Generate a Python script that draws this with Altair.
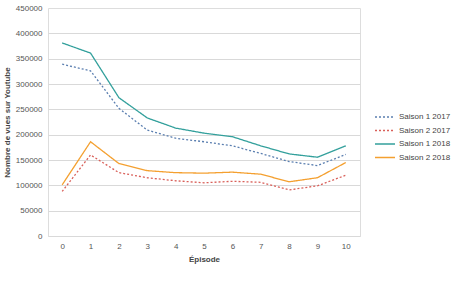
import altair as alt
import pandas as pd

episodes = list(range(11))
series_names = ["Saison 1 2017", "Saison 2 2017", "Saison 1 2018", "Saison 2 2018"]
s1_2017 = [339000, 326000, 252000, 209000, 193000, 186000, 178000, 163000, 147000, 139000, 161000]
s2_2017 = [88000, 160000, 125000, 115000, 109000, 105000, 108000, 106000, 91000, 99000, 120000]
s1_2018 = [381000, 361000, 273000, 233000, 213000, 203000, 196000, 178000, 162000, 155500, 178000]
s2_2018 = [101000, 186000, 143000, 129000, 125000, 124000, 126000, 122000, 107000, 115000, 145000]
colors = ["#5b7fb0", "#d9605a", "#33a09c", "#f4a030"]
dashes = [[2, 2], [2, 2], [1, 0], [1, 0]]
widths = [1.3, 1.3, 2.0, 2.0]

rows = []
for name, vals in zip(series_names, [s1_2017, s2_2017, s1_2018, s2_2018]):
    for e, v in zip(episodes, vals):
        rows.append({"Épisode": e, "Vues": v, "Série": name})
df = pd.DataFrame(rows)

font = "Liberation Sans"

chart = alt.Chart(df).mark_line().encode(
    x=alt.X("Épisode:Q", scale=alt.Scale(domain=[-0.5, 10.5], nice=False),
            axis=alt.Axis(values=episodes, title="Épisode", grid=False, ticks=False,
                          domain=False, labelFontSize=8, labelColor="#555555",
                          labelPadding=6, titleFontSize=8, titleColor="#444444",
                          titlePadding=5, labelFont=font, titleFont=font)),
    y=alt.Y("Vues:Q", scale=alt.Scale(domain=[0, 450000], nice=False),
            axis=alt.Axis(values=list(range(0, 450001, 50000)), title="Nombre de vues sur Youtube",
                          ticks=False, domain=False, labelFontSize=8, labelColor="#555555",
                          labelPadding=6, titleFontSize=8, titleColor="#444444",
                          titlePadding=4, labelFont=font, titleFont=font, format="d",
                          gridColor="#d9d9d9",
                          gridOpacity={"condition": {"test": "datum.value >= 450000", "value": 0}, "value": 1})),
    color=alt.Color("Série:N", scale=alt.Scale(domain=series_names, range=colors),
                    legend=alt.Legend(title=None, orient="none", legendX=331, legendY=103,
                                      symbolType="M-2,0H2", symbolSize=100, symbolStrokeWidth=1.8,
                                      labelFontSize=8, labelColor="#444444", labelFont=font,
                                      labelOffset=8, rowPadding=3.5)),
    strokeDash=alt.StrokeDash("Série:N", scale=alt.Scale(domain=series_names, range=dashes), legend=None),
    strokeWidth=alt.StrokeWidth("Série:N", scale=alt.Scale(domain=series_names, range=widths), legend=None),
).properties(
    width=312, height=228,
    autosize=alt.AutoSizeParams(type="none"),
    padding={"left": 48, "top": 8, "right": 98, "bottom": 47},
).configure_view(stroke=None).configure(background="white")

chart.save("out.html", embed_options={"renderer": "svg", "actions": False})
